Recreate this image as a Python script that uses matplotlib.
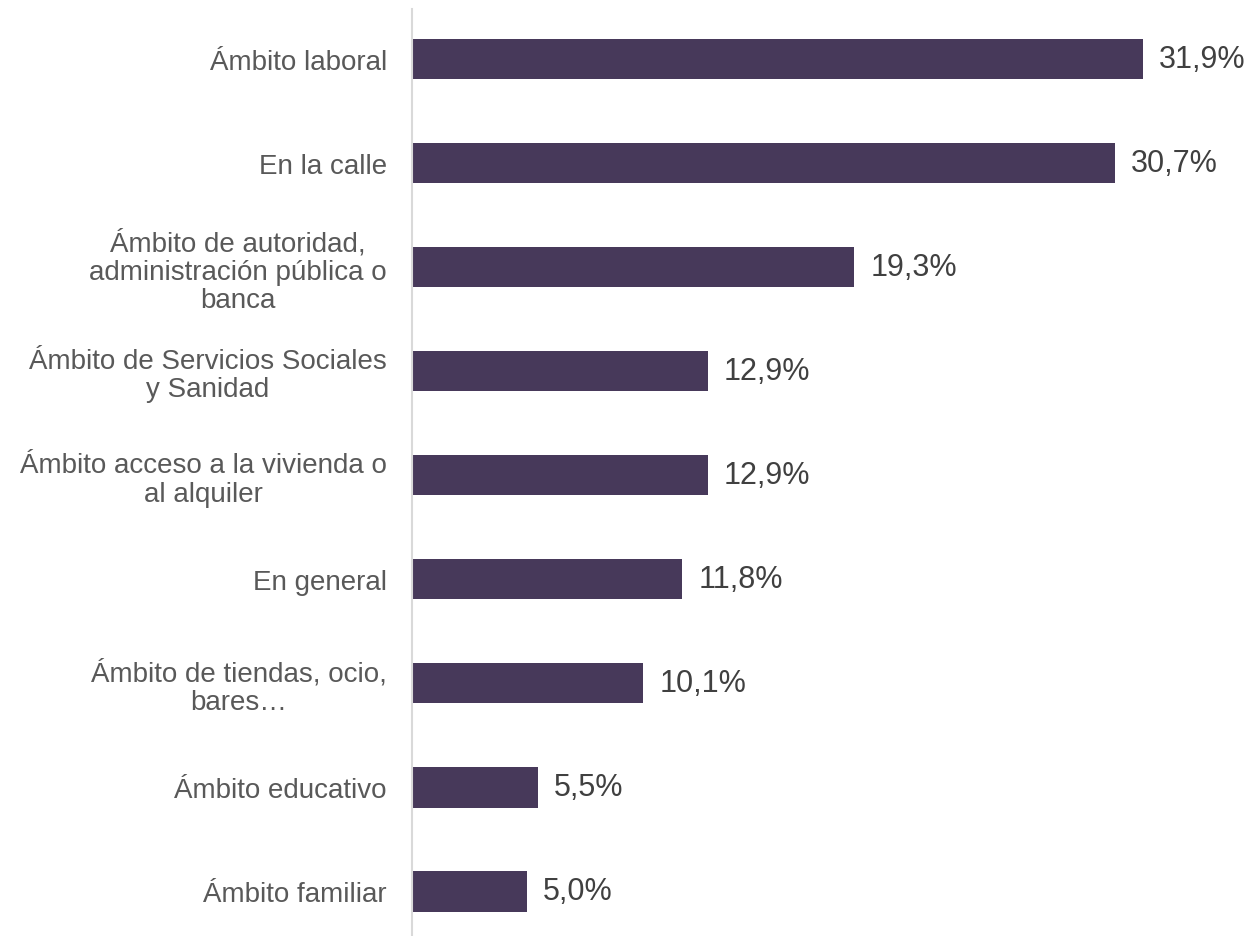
import matplotlib.pyplot as plt
import numpy as np

plt.rcParams['font.family'] = ['Liberation Sans', 'DejaVu Sans']

categorias = ['Ámbito laboral', 'En la calle',
              'Ámbito de autoridad,\nadministración pública o\nbanca',
              'Ámbito de Servicios Sociales\ny Sanidad',
              'Ámbito acceso a la vivienda o\nal alquiler',
              'En general', 'Ámbito de tiendas, ocio,\nbares…',
              'Ámbito educativo', 'Ámbito familiar']
valores = [31.9, 30.7, 19.3, 12.9, 12.9, 11.8, 10.1, 5.5, 5.0]
etiquetas = ['31,9%', '30,7%', '19,3%', '12,9%', '12,9%', '11,8%', '10,1%', '5,5%', '5,0%']

fig = plt.figure(figsize=(12.55, 9.37), dpi=100)
ax = fig.add_axes([412 / 1255, 0.0, 1 - 412 / 1255, 927 / 937])

y = np.arange(len(categorias))
ax.barh(y, valores, height=0.39, color='#47395A')

for yi, v, t in zip(y, valores, etiquetas):
    ax.text(v + 0.7, yi, t, va='center', ha='left', fontsize=22, color='#404040')

ax.set_xlim(0, 36.8)
ax.set_ylim(8.43, -0.48)
ax.set_yticks(y)
ax.set_yticklabels(categorias, fontsize=20, color='#595959', linespacing=1.12)
for lbl in ax.get_yticklabels():
    lbl.set_multialignment('center')
ax.tick_params(axis='y', length=0, pad=18)
ax.set_xticks([])

for s in ['top', 'right', 'bottom']:
    ax.spines[s].set_visible(False)
ax.spines['left'].set_color('#d9d9d9')
ax.spines['left'].set_linewidth(1.5)

fig.savefig('out.png', dpi=100)
